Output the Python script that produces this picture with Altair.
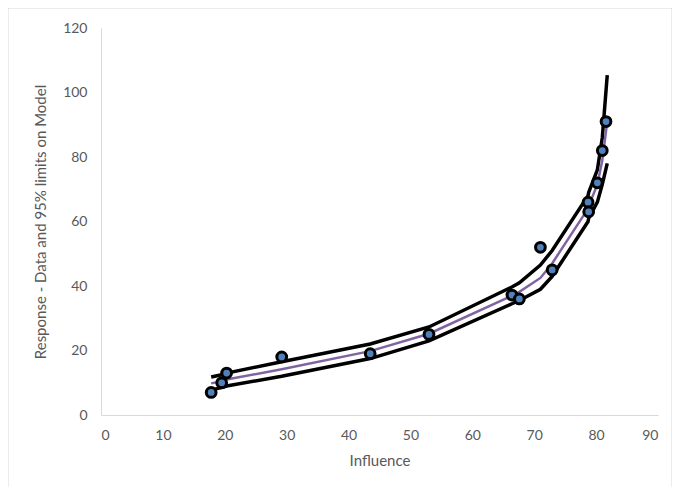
import altair as alt
import pandas as pd

# Observed data
influence = [17.8, 19.5, 20.3, 29.2, 43.5, 53.0, 66.4, 67.6, 71.0, 72.9, 78.7, 78.8, 80.2, 81.0, 81.6]
response = [7.0, 10.0, 13.0, 18.0, 19.0, 25.0, 37.2, 36.0, 52.0, 45.0, 66.0, 63.0, 72.0, 82.0, 91.0]

# Model and 95% limits evaluated at the data influences
line_x = [17.8, 19.5, 20.3, 29.2, 43.5, 53.0, 66.4, 67.6, 71.0, 72.9, 78.7, 78.8, 80.2, 81.0, 81.8]
model = [9.8, 10.5, 11.0, 14.2, 19.8, 25.2, 37.0, 38.2, 42.5, 47.0, 64.0, 64.8, 71.5, 79.0, 91.0]
upper = [11.8, 12.5, 13.0, 16.5, 22.0, 27.3, 39.7, 41.0, 46.5, 51.0, 68.0, 69.0, 76.0, 86.0, 105.4]
lower = [7.8, 8.5, 9.0, 12.0, 17.5, 23.0, 34.5, 35.5, 39.0, 43.0, 60.0, 61.0, 66.0, 71.5, 78.0]

x_ticks = [0, 10, 20, 30, 40, 50, 60, 70, 80, 90]
y_ticks = [0, 20, 40, 60, 80, 100, 120]

pts = pd.DataFrame({"x": influence, "y": response})
lines = pd.DataFrame({"x": line_x, "model": model, "upper": upper, "lower": lower, "order": list(range(len(line_x)))})

xs = alt.Scale(domain=[0, 90], nice=False)
ys = alt.Scale(domain=[0, 120], nice=False)

font = "Lato"
xax = alt.Axis(values=x_ticks, title="Influence", grid=False, ticks=False,
               domainColor="#d9d9d9", domainWidth=1, labelColor="#595959",
               labelFontSize=14, labelFont=font, labelPadding=13,
               titleColor="#595959", titleFontSize=15, titleFont=font,
               titleFontWeight="normal", titlePadding=11)
yax = alt.Axis(values=y_ticks, title="Response - Data and 95% limits on Model",
               grid=False, ticks=False, domainColor="#d9d9d9", domainWidth=1,
               labelColor="#595959", labelFontSize=14, labelFont=font,
               labelPadding=14, titleColor="#595959", titleFontSize=15,
               titleFont=font, titleFontWeight="normal", titlePadding=14)

base = alt.Chart(lines)
up = base.mark_line(color="black", strokeWidth=3.5).encode(
    x=alt.X("x:Q", scale=xs, axis=xax), y=alt.Y("upper:Q", scale=ys, axis=yax), order="order:Q")
lo = base.mark_line(color="black", strokeWidth=3.5).encode(
    x=alt.X("x:Q", scale=xs), y=alt.Y("lower:Q", scale=ys), order="order:Q")
md = base.mark_line(color="#8064a2", strokeWidth=2.5).encode(
    x=alt.X("x:Q", scale=xs), y=alt.Y("model:Q", scale=ys), order="order:Q")
dots = alt.Chart(pts).mark_circle(size=95, color="#4f81bd", opacity=1,
                                   stroke="black", strokeWidth=3).encode(
    x=alt.X("x:Q", scale=xs), y=alt.Y("y:Q", scale=ys))

frame = alt.Chart(pd.DataFrame({"a": [0]})).mark_rect(
    fill=None, stroke="#d9d9d9", strokeWidth=1).encode(
    x=alt.value(-93), x2=alt.value(571), y=alt.value(-20), y2=alt.value(462))

chart = alt.layer(frame, up, lo, md, dots).properties(
    width=557, height=387,
    autosize=alt.AutoSizeParams(type="none"),
    padding={"left": 93, "top": 20, "right": 14, "bottom": 72},
    background="white",
).configure_view(stroke=None)

chart.save("out.html", embed_options={"renderer": "svg", "actions": False})
